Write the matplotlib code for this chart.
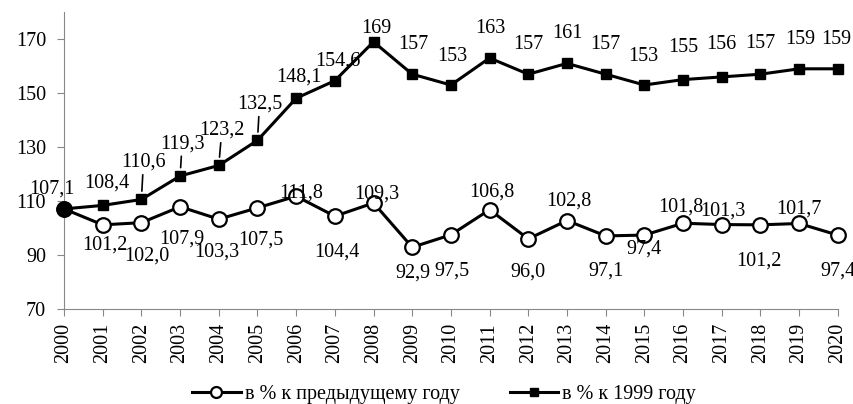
import numpy as np
import matplotlib
matplotlib.use("Agg")
import matplotlib.pyplot as plt

years = list(range(2000, 2021))
prev_year = [107.1, 101.2, 102.0, 107.9, 103.3, 107.5, 111.8, 104.4, 109.3, 92.9,
             97.5, 106.8, 96.0, 102.8, 97.1, 97.4, 101.8, 101.3, 101.2, 101.7, 97.4]
to_1999 = [107.1, 108.4, 110.6, 119.3, 123.2, 132.5, 148.1, 154.6, 169, 157,
           153, 163, 157, 161, 157, 153, 155, 156, 157, 159, 159]
prev_label = "в % к предыдущему году"
base_label = "в % к 1999 году"

# label offsets in pixels (dx, dy), picked to follow the original layout
off_base = [(-12, 20), (4, 22), (2, 37), (2, 32), (3, 35), (2, 36), (3, 21), (3, 20),
            (3, 13), (1, 30), (1, 29), (1, 30), (0, 30), (0, 30), (0, 30), (-1, 29),
            (0, 32), (0, 32), (0, 31), (1, 29), (-1, 29)]
off_prev = [None, (2, -20), (5, -33), (2, -32), (-2, -33), (3, -32), (5, 3), (2, -36),
            (3, 9), (1, -26), (1, -36), (2, 18), (0, -33), (2, 19), (0, -35), (0, -14),
            (-2, 16), (1, 14), (-1, -36), (0, 14), (0, -36)]
leader = {2002, 2003, 2004, 2005}

plt.rcParams["font.family"] = ["Liberation Serif", "DejaVu Serif"]
fs = 14.5

fig = plt.figure(figsize=(8.54, 4.04), dpi=100)
ax = fig.add_axes([0.075, 0.235, 0.906, 0.735])

ax.plot(years, to_1999, "-s", color="black", lw=2.2, ms=7.2, label=base_label, zorder=3)
ax.plot(years, prev_year, "-o", color="black", lw=2.2, ms=10.5, mfc="white", mew=1.6,
        label=prev_label, zorder=4)
ax.plot(years[:1], prev_year[:1], "o", color="black", ms=10.5, zorder=5)


def fmt(v):
    return f"{v:.1f}".replace(".", ",") if v % 1 else f"{v:.0f}"


for i, (x, v) in enumerate(zip(years, to_1999)):
    dx, dy = off_base[i]
    arrow = None
    if x in leader:
        arrow = dict(arrowstyle="-", color="black", lw=1.2, shrinkA=0, shrinkB=6)
    txt = f"{v:.1f}".replace(".", ",") if x < 2008 else fmt(v)
    ax.annotate(txt, (x, v), xytext=(dx, dy), textcoords="offset pixels",
                ha="center", va="center", fontsize=fs, arrowprops=arrow, zorder=6)
for i, (x, v) in enumerate(zip(years, prev_year)):
    if off_prev[i] is None:
        continue
    dx, dy = off_prev[i]
    ax.annotate(f"{v:.1f}".replace(".", ","), (x, v), xytext=(dx, dy),
                textcoords="offset pixels", ha="center", va="center", fontsize=fs, zorder=6)

ax.set_xlim(2000, 2020)
ax.set_ylim(70, 180)
ax.set_yticks(np.arange(70, 171, 20))
ax.set_xticks(years)
ax.set_xticklabels([str(y) for y in years], rotation=90)
ax.tick_params(labelsize=fs, length=5, color="#888888")
ax.tick_params(axis="y", pad=8)
ax.tick_params(axis="x", pad=5)
for s in ["top", "right"]:
    ax.spines[s].set_visible(False)
for s in ["left", "bottom"]:
    ax.spines[s].set_color("#888888")
for ln in ax.lines:
    ln.set_clip_on(False)

h, l = ax.get_legend_handles_labels()
fig.legend(h[::-1], l[::-1], loc="lower center", bbox_to_anchor=(0.52, -0.045), ncol=2,
           frameon=False, fontsize=fs, handlelength=2.4, columnspacing=2.5,
           handletextpad=0.2, markerscale=0.75)

fig.savefig("out.png", dpi=100)
